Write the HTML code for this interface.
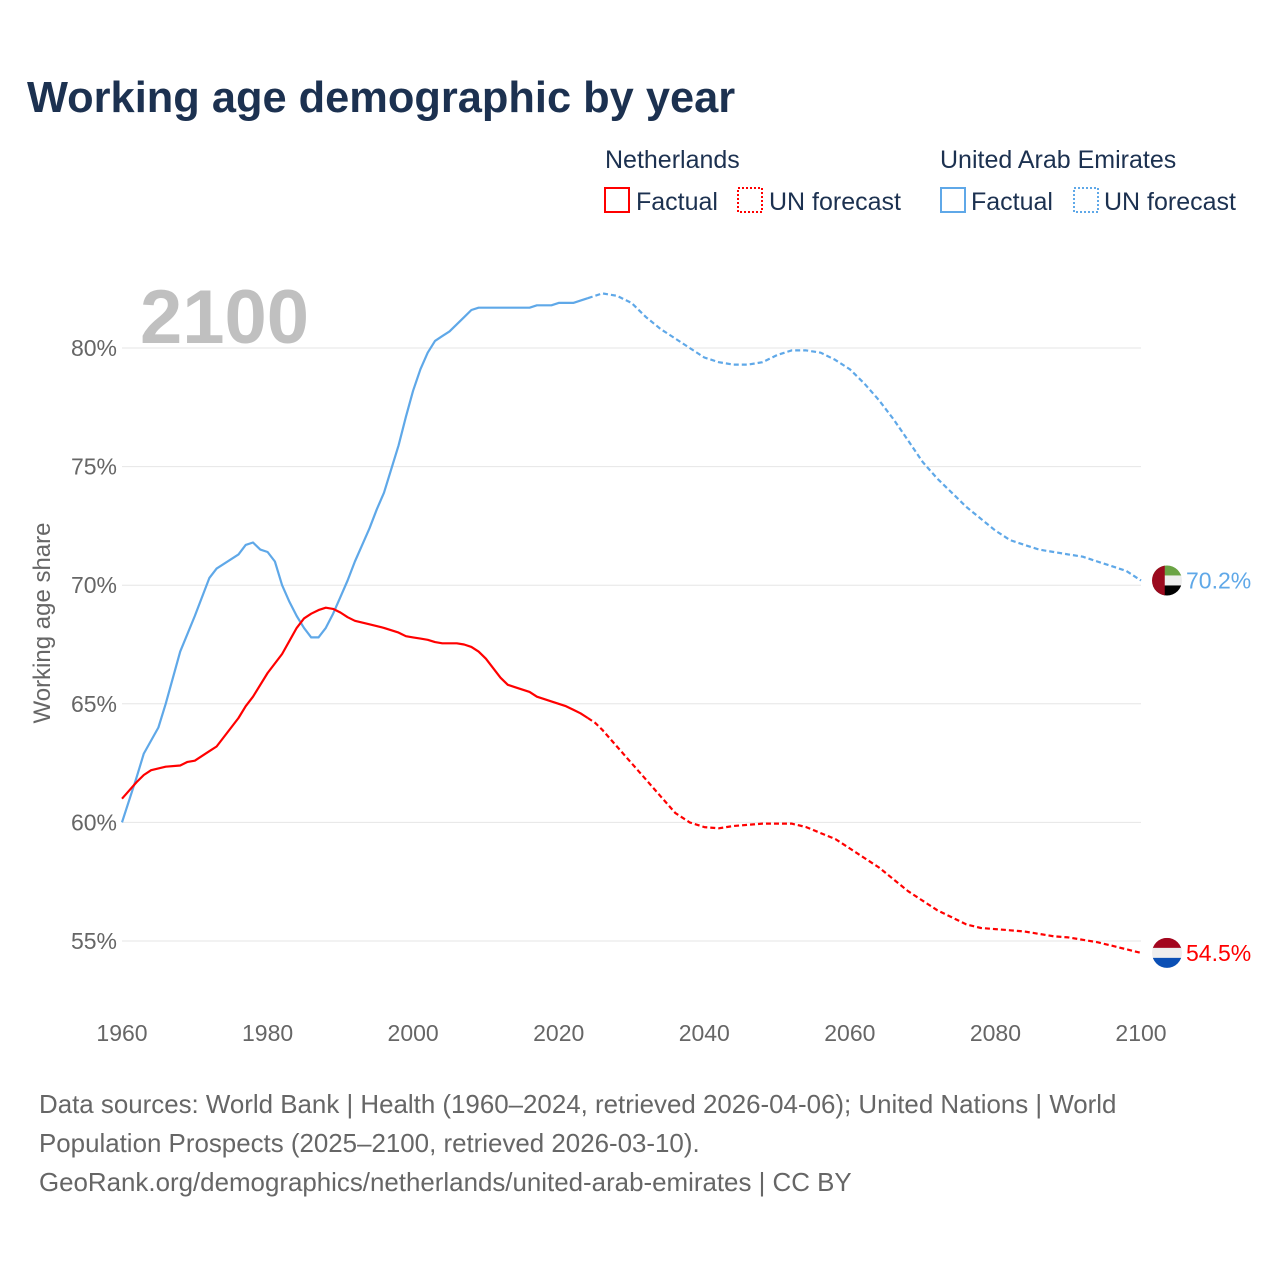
<!DOCTYPE html>
<html><head><meta charset="utf-8"><style>
body{margin:0;background:#fff;font-family:"Liberation Sans",sans-serif}
#wrap{position:relative;width:1280px;height:1280px;overflow:hidden}
</style></head><body>
<div id="wrap">
<svg id="chart" width="1280" height="1280" style="font-family:'Liberation Sans',sans-serif">
<text x="27" y="112" font-size="43.4" font-weight="bold" fill="#1c3150">Working age demographic by year</text>
<g font-size="25" fill="#1c3150">
<text x="605" y="168">Netherlands</text>
<rect x="605" y="188" width="24" height="24" fill="none" stroke="#ff0000" stroke-width="2"/>
<text x="636" y="210">Factual</text>
<rect x="738" y="188" width="24" height="24" fill="none" stroke="#ff0000" stroke-width="2" stroke-dasharray="2 2"/>
<text x="769" y="210">UN forecast</text>
<text x="940" y="168">United Arab Emirates</text>
<rect x="941" y="188" width="24" height="24" fill="none" stroke="#5fa8e8" stroke-width="2"/>
<text x="971" y="210">Factual</text>
<rect x="1074" y="188" width="24" height="24" fill="none" stroke="#5fa8e8" stroke-width="2" stroke-dasharray="2 2"/>
<text x="1104" y="210">UN forecast</text>
</g>
<text x="140" y="343" font-size="76" font-weight="bold" fill="#c0c0c0">2100</text>
<text transform="translate(50,623) rotate(-90)" text-anchor="middle" font-size="24" fill="#666">Working age share</text>
<g id="grid"></g><g id="lines"></g>
<g font-size="25.9" fill="#666">
<text x="39" y="1113">Data sources: World Bank | Health (1960–2024, retrieved 2026-04-06); United Nations | World</text>
<text x="39" y="1152">Population Prospects (2025–2100, retrieved 2026-03-10).</text>
<text x="39" y="1191">GeoRank.org/demographics/netherlands/united-arab-emirates | CC BY</text>
</g>
</svg></div>
<script>
const yTicks=[55,60,65,70,75,80];
const xTicks=[1960,1980,2000,2020,2040,2060,2080,2100];
const uaeYears=[1960,1962,1963,1965,1966,1968,1970,1972,1973,1976,1977,1978,1979,1980,1981,1982,1983,1984,1985,1986,1987,1988,1989,1990,1991,1992,1993,1994,1995,1996,1997,1998,1999,2000,2001,2002,2003,2004,2005,2006,2007,2008,2009,2016,2017,2019,2020,2022,2023,2024];
const uaeValues=[60.0,61.9,62.9,64.0,65.0,67.2,68.7,70.3,70.7,71.3,71.7,71.8,71.5,71.4,71.0,70.0,69.3,68.7,68.2,67.8,67.8,68.2,68.8,69.5,70.2,71.0,71.7,72.4,73.2,73.9,74.9,75.9,77.1,78.2,79.1,79.8,80.3,80.5,80.7,81.0,81.3,81.6,81.7,81.7,81.8,81.8,81.9,81.9,82.0,82.1];
const uaeFcYears=[2024,2026,2028,2030,2032,2034,2036,2038,2040,2042,2044,2046,2048,2050,2052,2054,2056,2058,2060,2062,2064,2066,2068,2070,2072,2074,2076,2078,2080,2082,2084,2086,2088,2090,2092,2094,2096,2098,2100];
const uaeFcValues=[82.1,82.3,82.2,81.9,81.3,80.8,80.4,80.0,79.6,79.4,79.3,79.3,79.4,79.7,79.9,79.9,79.8,79.5,79.1,78.5,77.8,77.0,76.1,75.2,74.5,73.9,73.3,72.8,72.3,71.9,71.7,71.5,71.4,71.3,71.2,71.0,70.8,70.6,70.2];
const nlYears=[1960,1962,1963,1964,1966,1968,1969,1970,1972,1973,1975,1976,1977,1978,1980,1982,1984,1985,1986,1987,1988,1989,1990,1991,1992,1994,1996,1998,1999,2000,2001,2002,2003,2004,2006,2007,2008,2009,2010,2011,2012,2013,2014,2015,2016,2017,2018,2019,2020,2021,2022,2023,2024];
const nlValues=[61.0,61.7,62.0,62.2,62.35,62.4,62.55,62.6,63.0,63.2,64.0,64.4,64.9,65.3,66.3,67.1,68.2,68.6,68.8,68.95,69.05,69.0,68.85,68.65,68.5,68.35,68.2,68.0,67.85,67.8,67.75,67.7,67.6,67.55,67.55,67.5,67.4,67.2,66.9,66.5,66.1,65.8,65.7,65.6,65.5,65.3,65.2,65.1,65.0,64.9,64.75,64.6,64.4];
const nlFcYears=[2024,2025,2026,2028,2030,2032,2034,2036,2038,2040,2042,2044,2046,2048,2050,2052,2054,2056,2058,2060,2062,2064,2066,2068,2070,2072,2074,2076,2078,2080,2082,2084,2086,2088,2090,2092,2094,2096,2098,2100];
const nlFcValues=[64.4,64.2,63.9,63.2,62.5,61.8,61.1,60.4,60.0,59.8,59.75,59.85,59.9,59.95,59.95,59.95,59.8,59.55,59.3,58.9,58.5,58.1,57.6,57.1,56.7,56.3,56.0,55.7,55.55,55.5,55.45,55.4,55.3,55.2,55.15,55.05,54.95,54.8,54.65,54.5];
const NS='http://www.w3.org/2000/svg';
const X=y=>122+(y-1960)*(1141-122)/140;
const Y=v=>348+(80-v)*(941-348)/25;
function mk(tag,attrs,parent){const e=document.createElementNS(NS,tag);for(const k in attrs)e.setAttribute(k,attrs[k]);parent.appendChild(e);return e;}
const grid=document.getElementById('grid'),lines=document.getElementById('lines');
yTicks.forEach(t=>{
 const l=mk('line',{x1:122,x2:1141,y1:Y(t),y2:Y(t),stroke:'#e6e6e6','stroke-width':1},grid);
 
 
 const tx=mk('text',{x:117,y:Y(t)+8,'text-anchor':'end','font-size':23,fill:'#666'},grid);
 tx.textContent=t+'%';
 
 
});
xTicks.forEach(t=>{
 const tx=mk('text',{x:X(t),y:1041,'text-anchor':'middle','font-size':23,fill:'#666'},grid);
 tx.textContent=t;
 
 
});
function line(ys,vs,color,dash,name){
 const d=ys.map((y,i)=>(i?'L':'M')+X(y).toFixed(1)+','+Y(vs[i]).toFixed(1)).join('');
 const p=mk('path',{d:d,fill:'none',stroke:color,'stroke-width':2.2,'stroke-linejoin':'round'},lines);
 if(dash)p.setAttribute('stroke-dasharray','5 3');
 
 
}
line(uaeYears,uaeValues,'#5fa8e8',false,'uae-factual-line');
line(uaeFcYears,uaeFcValues,'#5fa8e8',true,'uae-forecast-line');
line(nlYears,nlValues,'#ff0000',false,'nl-factual-line');
line(nlFcYears,nlFcValues,'#ff0000',true,'nl-forecast-line');
function flag(v,stripes,vertical,name,color,label){
 const cx=1167,cy=Y(v),r=15;
 const g=mk('g',{},lines);
 
 
 const id='c'+name;
 const cp=mk('clipPath',{id:id},g);mk('circle',{cx:cx,cy:cy,r:r},cp);
 const gg=mk('g',{'clip-path':'url(#'+id+')'},g);
 stripes.forEach((c,i)=>mk('rect',{x:cx-r,y:cy-r+i*2*r/stripes.length,width:2*r,height:2*r/stripes.length+0.5,fill:c},gg));
 if(vertical)mk('rect',{x:cx-r,y:cy-r,width:r*0.85,height:2*r,fill:'#9b0a1e'},gg);
 const t=mk('text',{x:1186,y:cy+8,'font-size':23,fill:color},lines);
 t.textContent=label;
 
 
}
flag(uaeFcValues[uaeFcValues.length-1],['#6aa344','#eeeeee','#000000'],true,'uae-flag','#5fa8e8',uaeFcValues[uaeFcValues.length-1].toFixed(1)+'%');
flag(nlFcValues[nlFcValues.length-1],['#a3061e','#eeeeee','#0a4fb5'],false,'nl-flag','#ff0000',nlFcValues[nlFcValues.length-1].toFixed(1)+'%');
</script>
</body></html>
